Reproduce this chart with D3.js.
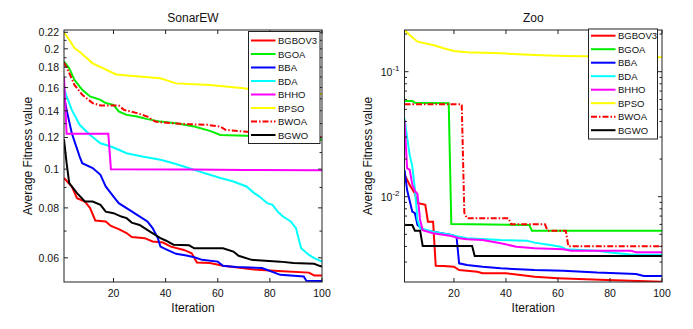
<!DOCTYPE html>
<html>
<head>
<meta charset="utf-8">
<script src="https://cdn.jsdelivr.net/npm/d3@7"></script>
<style>
body { margin: 0; background: #fff; }
text { font-family: Arial, "Liberation Sans", sans-serif; fill: #111; }
</style>
</head>
<body>
<script>
// Convergence curves as [iteration, average fitness]
const algorithms = ['BGBOV3', 'BGOA', 'BBA', 'BDA', 'BHHO', 'BPSO', 'BWOA', 'BGWO']
const colors = ['#ff0000', '#00ee00', '#0000ff', '#00ffff', '#ff00ff', '#ffff00', '#ff0000', '#000000']

const iterTicks = [20, 40, 60, 80, 100]

// SonarEW
const sonarTicks = [0.06, 0.08, 0.1, 0.12, 0.14, 0.16, 0.18, 0.2, 0.22]
const sonarMinor = [0.07, 0.09, 0.11, 0.13, 0.15, 0.17, 0.19, 0.21]
const sonarBGBOV3 = [[1,0.0950],[4,0.0905],[6,0.0846],[9,0.0830],[11,0.0799],[13,0.0744],[17,0.0740],[19,0.0721],[22,0.0708],[25,0.0692],[27,0.0676],[32,0.0672],[35,0.0659],[39,0.0655],[42,0.0640],[47,0.0628],[50,0.0616],[52,0.0584],[57,0.0582],[62,0.0573],[75,0.0560],[85,0.0555],[95,0.0551],[97,0.0542],[100,0.0542]]
const sonarBGOA = [[1,0.186],[3,0.1789],[5,0.1673],[8,0.1579],[11,0.152],[15,0.1491],[17,0.1463],[20,0.1448],[22,0.1394],[25,0.1367],[29,0.1354],[33,0.1334],[38,0.1315],[44,0.1303],[51,0.1278],[57,0.1247],[61,0.1218],[71,0.1213],[81,0.1206],[89,0.1196],[100,0.1184]]
const sonarBBA = [[1,0.152],[2,0.1407],[4,0.1230],[7,0.1075],[8,0.1035],[12,0.1006],[15,0.0968],[17,0.0905],[20,0.0854],[22,0.0822],[25,0.0799],[28,0.0776],[31,0.0754],[33,0.0740],[35,0.0712],[37,0.0672],[38,0.0640],[40,0.0631],[44,0.0614],[48,0.0608],[51,0.0602],[54,0.0593],[60,0.0587],[62,0.0573],[67,0.0569],[77,0.0566],[84,0.0544],[93,0.0539],[94,0.0526],[100,0.0525]]
const sonarBDA = [[1,0.1595],[2,0.152],[4,0.1407],[7,0.1291],[11,0.1218],[15,0.1161],[19,0.1139],[22,0.1118],[25,0.1096],[31,0.1075],[38,0.1055],[43,0.1035],[47,0.1015],[53,0.0986],[57,0.0968],[61,0.0950],[66,0.0931],[71,0.0905],[74,0.0871],[76,0.0854],[79,0.0822],[81,0.0814],[83,0.0783],[85,0.0761],[88,0.0740],[90,0.0712],[91,0.0672],[92,0.0634],[95,0.0610],[97,0.0599],[100,0.0587]]
const sonarBHHO = [[1,0.170],[2,0.1226],[18,0.1226],[19,0.1000],[50,0.0998],[70,0.0995],[100,0.0993]]
const sonarBPSO = [[1,0.22],[3,0.2107],[5,0.2008],[7,0.1967],[12,0.184],[21,0.1726],[31,0.1703],[38,0.1688],[44,0.1639],[57,0.1624],[70,0.1593],[79,0.1562],[89,0.1548],[100,0.1542]]
const sonarBWOA = [[1,0.185],[3,0.174],[5,0.1625],[8,0.1535],[12,0.1463],[15,0.1443],[22,0.1443],[24,0.1407],[29,0.1381],[33,0.1354],[36,0.1315],[42,0.1303],[48,0.1296],[56,0.1291],[61,0.1278],[63,0.1254],[70,0.1242],[79,0.1230],[89,0.1218],[100,0.1202]]
const sonarBGWO = [[1,0.1188],[2,0.1035],[3,0.0923],[6,0.0871],[9,0.0830],[12,0.0830],[15,0.0814],[17,0.0783],[20,0.0776],[23,0.0761],[25,0.0754],[27,0.0735],[30,0.0725],[34,0.0698],[38,0.0672],[40,0.0663],[43,0.0647],[49,0.0645],[51,0.0634],[62,0.0634],[66,0.0622],[68,0.0607],[73,0.0593],[84,0.0587],[89,0.0582],[97,0.0580],[99,0.0573],[100,0.0571]]

// Zoo
const zooTicks = [0.01, 0.1]
const zooMinor = [0.003, 0.004, 0.005, 0.006, 0.007, 0.008, 0.009, 0.02, 0.03, 0.04, 0.05, 0.06, 0.07, 0.08, 0.09, 0.2]
const zooBGBOV3 = [[1,0.0150],[3,0.0124],[5,0.0106],[6,0.0089],[9,0.0086],[10,0.0063],[12,0.0063],[13,0.0028],[16,0.00279],[20,0.00275],[22,0.00259],[29,0.00251],[31,0.00244],[40,0.00244],[51,0.00229],[60,0.00223],[76,0.00216],[100,0.00209]]
const zooBGOA = [[1,0.0583],[4,0.0583],[5,0.0565],[18,0.0559],[19,0.00605],[49,0.00594],[50,0.00535],[100,0.00535]]
const zooBBA = [[1,0.01636],[2,0.0113],[4,0.00759],[5,0.00737],[6,0.00594],[8,0.00542],[12,0.00525],[19,0.00494],[21,0.00479],[22,0.00293],[25,0.00284],[31,0.00275],[38,0.00267],[51,0.00259],[62,0.00256],[75,0.00247],[90,0.00241],[93,0.00232],[100,0.00232]]
const zooBDA = [[1,0.0424],[2,0.030],[3,0.0215],[4,0.0175],[5,0.0115],[6,0.0065],[7,0.00559],[12,0.00525],[19,0.00494],[22,0.00479],[25,0.00465],[38,0.0045],[48,0.00445],[51,0.00429],[57,0.00411],[61,0.00398],[63,0.0038],[75,0.0037],[81,0.00356],[88,0.00345],[100,0.00343]]
const zooBHHO = [[1,0.0411],[2,0.0169],[3,0.0164],[4,0.0125],[5,0.0111],[6,0.0105],[7,0.0065],[8,0.0054],[12,0.0051],[19,0.00485],[22,0.00465],[25,0.00456],[31,0.0045],[38,0.00424],[44,0.00398],[51,0.00387],[62,0.0038],[65,0.0037],[88,0.0037],[90,0.0036],[100,0.0036]]
const zooBPSO = [[1,0.2156],[3,0.1966],[6,0.1738],[12,0.1635],[16,0.1539],[20,0.1464],[25,0.143],[38,0.1403],[51,0.136],[63,0.1335],[100,0.1303]]
const zooBWOA = [[1,0.0548],[23,0.0548],[24,0.00745],[25,0.00672],[41,0.00672],[42,0.00601],[55,0.00601],[56,0.00535],[63,0.00535],[64,0.00401],[100,0.00401]]
const zooBGWO = [[1,0.00594],[4,0.00594],[5,0.00535],[7,0.00535],[8,0.00403],[27,0.00403],[28,0.00335],[100,0.00335]]

const WIDTH = 693
const HEIGHT = 329

const svg = d3.select('body')
  .append('svg')
  .attr('width', WIDTH)
  .attr('height', HEIGHT)

const dashFor = name => name == 'BWOA' ? '6,2,1.5,2' : null

const drawPanel = cfg => {
  const x = d3.scaleLinear().domain([1, 100]).range([cfg.left, cfg.right])
  const y = d3.scaleLog().domain(cfg.yDomain).range([cfg.bottom, cfg.top])
  const g = svg.append('g')

  // clip so curves stay inside the box
  const clipId = 'clip-' + cfg.id
  g.append('clipPath').attr('id', clipId)
    .append('rect')
    .attr('x', cfg.left).attr('y', cfg.top)
    .attr('width', cfg.right - cfg.left).attr('height', cfg.bottom - cfg.top)

  const line = d3.line()
    .x(d => x(d[0]))
    .y(d => y(d[1]))

  const plot = g.append('g').attr('clip-path', `url(#${clipId})`)
  cfg.series.forEach((s, i) => {
    plot.append('path')
      .attr('d', line(s))
      .attr('fill', 'none')
      .attr('stroke', colors[i])
      .attr('stroke-width', 2)
      .attr('stroke-dasharray', dashFor(algorithms[i]))
  })

  // box
  g.append('rect')
    .attr('x', cfg.left).attr('y', cfg.top)
    .attr('width', cfg.right - cfg.left).attr('height', cfg.bottom - cfg.top)
    .attr('fill', 'none').attr('stroke', '#222').attr('stroke-width', 1)

  // ticks point inward on all four sides
  const tickColor = '#222'
  iterTicks.forEach(t => {
    g.append('line').attr('x1', x(t)).attr('x2', x(t)).attr('y1', cfg.bottom).attr('y2', cfg.bottom - 4).attr('stroke', tickColor)
    g.append('line').attr('x1', x(t)).attr('x2', x(t)).attr('y1', cfg.top).attr('y2', cfg.top + 4).attr('stroke', tickColor)
    g.append('text')
      .attr('x', x(t)).attr('y', cfg.bottom + 15)
      .attr('text-anchor', 'middle')
      .attr('font-size', 10.5)
      .text(t)
  })

  const yTick = (v, len) => {
    g.append('line').attr('x1', cfg.left).attr('x2', cfg.left + len).attr('y1', y(v)).attr('y2', y(v)).attr('stroke', tickColor)
    g.append('line').attr('x1', cfg.right).attr('x2', cfg.right - len).attr('y1', y(v)).attr('y2', y(v)).attr('stroke', tickColor)
  }
  cfg.yMinor.forEach(v => yTick(v, 2.5))
  cfg.yTicks.forEach(v => {
    yTick(v, 4)
    const label = g.append('text')
      .attr('x', cfg.left - 5).attr('y', y(v) + 4)
      .attr('text-anchor', 'end')
      .attr('font-size', 10.5)
    if (cfg.powerLabels) {
      label.append('tspan').text('10')
      label.append('tspan').attr('dy', -5).attr('font-size', 8).text(Math.round(Math.log10(v)))
    } else {
      label.text(v)
    }
  })

  // title and axis labels
  const midX = (cfg.left + cfg.right) / 2
  g.append('text')
    .attr('x', midX).attr('y', cfg.top - 8)
    .attr('text-anchor', 'middle')
    .attr('font-size', 12)
    .text(cfg.title)
  g.append('text')
    .attr('x', midX).attr('y', cfg.bottom + 30)
    .attr('text-anchor', 'middle')
    .attr('font-size', 12)
    .text('Iteration')
  g.append('text')
    .attr('transform', `translate(${cfg.yLabelX},${(cfg.top + cfg.bottom) / 2}) rotate(-90)`)
    .attr('text-anchor', 'middle')
    .attr('font-size', 12)
    .text('Average Fitness value')

  // legend
  const lg = cfg.legend
  g.append('rect')
    .attr('x', lg.x).attr('y', lg.y)
    .attr('width', lg.w).attr('height', lg.h)
    .attr('fill', '#fff').attr('stroke', '#222').attr('stroke-width', 1)
  algorithms.forEach((name, i) => {
    const cy = lg.y + lg.first + i * 13.5
    g.append('line')
      .attr('x1', lg.x + 2.5).attr('x2', lg.x + 27)
      .attr('y1', cy).attr('y2', cy)
      .attr('stroke', colors[i]).attr('stroke-width', 2)
      .attr('stroke-dasharray', dashFor(name))
    g.append('text')
      .attr('x', lg.x + 29.5).attr('y', cy + 3.5)
      .attr('font-size', 9.5)
      .text(name)
  })
}

drawPanel({
  id: 'sonar',
  title: 'SonarEW',
  left: 64, right: 322, top: 30, bottom: 282,
  yDomain: [0.0522, 0.2229],
  yTicks: sonarTicks,
  yMinor: sonarMinor,
  yLabelX: 32,
  series: [sonarBGBOV3, sonarBGOA, sonarBBA, sonarBDA, sonarBHHO, sonarBPSO, sonarBWOA, sonarBGWO],
  legend: { x: 248.5, y: 31.5, w: 71.5, h: 112, first: 9 }
})

drawPanel({
  id: 'zoo',
  title: 'Zoo',
  left: 404.5, right: 662, top: 30, bottom: 282,
  yDomain: [0.002077, 0.2156],
  yTicks: zooTicks,
  yMinor: zooMinor,
  powerLabels: true,
  yLabelX: 372,
  series: [zooBGBOV3, zooBGOA, zooBBA, zooBDA, zooBHHO, zooBPSO, zooBWOA, zooBGWO],
  legend: { x: 588.5, y: 29, w: 69, h: 110, first: 6.7 }
})
</script>
</body>
</html>
